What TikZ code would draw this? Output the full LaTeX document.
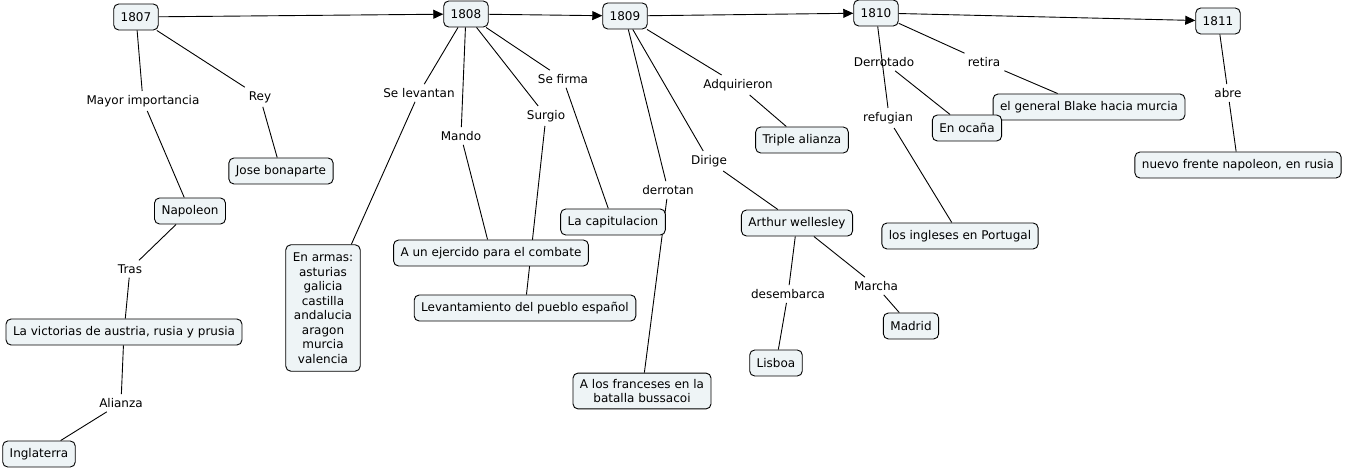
\documentclass[tikz,border=0pt]{standalone}
\usepackage{fontspec}
\setmainfont{DejaVu Sans}
\usetikzlibrary{backgrounds,arrows.meta}
\definecolor{boxfill}{RGB}{238,244,246}
\begin{document}
\begin{tikzpicture}[x=1pt,y=-1pt,
  concept/.style={draw, rounded corners=5pt, fill=boxfill, line width=0.9pt, inner xsep=7pt, inner ysep=4pt, minimum height=26pt, align=center, font=\fontsize{12}{14.5}\selectfont},
  lbl/.style={inner sep=4pt, font=\fontsize{12}{14}\selectfont},
  link/.style={line width=0.9pt},
  arr/.style={line width=0.9pt, -{Triangle[length=10pt,width=9pt]}}]
\useasboundingbox (0,0) rectangle (1345,470);
% concepts
\node[concept] (y1807) at (136,17) {1807};
\node[concept] (y1808) at (466,14) {1808};
\node[concept] (y1809) at (625,16) {1809};
\node[concept] (y1810) at (876,13) {1810};
\node[concept] (y1811) at (1218,21) {1811};
\node[concept] (jose) at (281,171) {Jose bonaparte};
\node[concept] (napo) at (190,211) {Napoleon};
\node[concept] (vict) at (124,332) {La victorias de austria, rusia y prusia};
\node[concept] (ingl) at (39,454) {Inglaterra};
\node[concept, inner ysep=8pt] (armas) at (323,308) {En armas:\\asturias\\galicia\\castilla\\andalucia\\aragon\\murcia\\valencia};
\node[concept] (ejer) at (491,253) {A un ejercido para el combate};
\node[concept] (levan) at (525,308) {Levantamiento del pueblo español};
\node[concept] (capit) at (613,222) {La capitulacion};
\node[concept, inner ysep=6pt] (franc) at (642,391) {A los franceses en la\\batalla bussacoi};
\node[concept] (tripl) at (802,140) {Triple alianza};
\node[concept] (arth) at (797,223) {Arthur wellesley};
\node[concept] (madr) at (911,326) {Madrid};
\node[concept] (lisb) at (776,363) {Lisboa};
\node[concept] (ingle) at (960,236) {los ingleses en Portugal};
\node[concept] (blake) at (1089,107) {el general Blake hacia murcia};
\node[concept] (ocana) at (967,128) {En ocaña};
\node[concept] (nuevo) at (1238,165) {nuevo frente napoleon, en rusia};
% labels
\node[lbl] (lmayor) at (143,101) {Mayor importancia};
\node[lbl] (lrey) at (260,97) {Rey};
\node[lbl] (ltras) at (130,269) {Tras};
\node[lbl] (lalia) at (121,403) {Alianza};
\node[lbl] (lselev) at (419,93) {Se levantan};
\node[lbl] (lmando) at (461,136) {Mando};
\node[lbl] (lsurg) at (546,116) {Surgio};
\node[lbl] (lfirma) at (563,79) {Se firma};
\node[lbl] (lderr) at (668,190) {derrotan};
\node[lbl] (ladq) at (738,85) {Adquirieron};
\node[lbl] (ldir) at (709,161) {Dirige};
\node[lbl] (ldes) at (788,294) {desembarca};
\node[lbl] (lmarch) at (876,286) {Marcha};
\node[lbl] (lderrot) at (884,62) {Derrotado};
\node[lbl] (lretira) at (984,62) {retira};
\node[lbl] (lrefug) at (888,118) {refugian};
\node[lbl] (labre) at (1228,93) {abre};
% connectors
\begin{scope}[on background layer]
\draw[link] (y1807) -- (lmayor); \draw[link] (lmayor) -- (napo);
\draw[link] (y1807) -- (lrey); \draw[link] (lrey) -- (jose);
\draw[link] (napo) -- (ltras); \draw[link] (ltras) -- (vict);
\draw[link] (vict) -- (lalia); \draw[link] (lalia) -- (ingl);
\draw[link] (y1808) -- (lselev); \draw[link] (lselev) -- (armas);
\draw[link] (y1808) -- (lmando); \draw[link] (lmando) -- (ejer);
\draw[link] (y1808) -- (lsurg); \draw[link] (lsurg) -- (levan);
\draw[link] (y1808) -- (lfirma); \draw[link] (lfirma) -- (capit);
\draw[link] (y1809) -- (lderr); \draw[link] (lderr) -- (franc);
\draw[link] (y1809) -- (ladq); \draw[link] (ladq) -- (tripl);
\draw[link] (y1809) -- (ldir); \draw[link] (ldir) -- (arth);
\draw[link] (arth) -- (ldes); \draw[link] (ldes) -- (lisb);
\draw[link] (arth) -- (lmarch); \draw[link] (lmarch) -- (madr);
\draw[link] (y1810) -- (lrefug.north); \draw[link] (lrefug) -- (ingle);
\draw[link] (lderrot) -- (ocana);
\draw[link] (y1810) -- (lretira); \draw[link] (lretira) -- (blake);
\draw[link] (y1811) -- (labre); \draw[link] (labre) -- (nuevo);
\end{scope}
\draw[arr] (y1807) -- (y1808);
\draw[arr] (y1808) -- (y1809);
\draw[arr] (y1809) -- (y1810);
\draw[arr] (y1810) -- (y1811);
\end{tikzpicture}
\end{document}
